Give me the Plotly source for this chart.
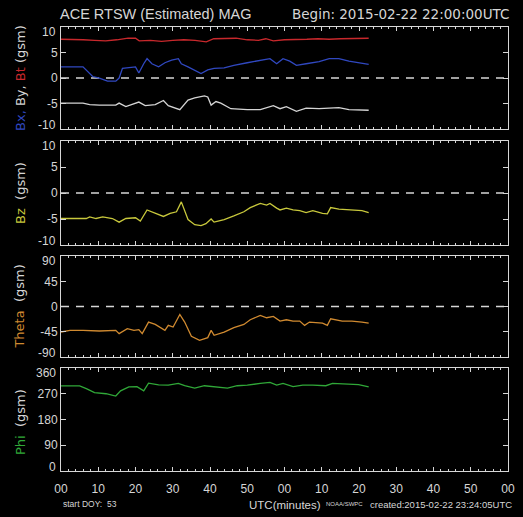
import plotly.graph_objects as go

# ACE RTSW magnetometer, 1-min data starting 2015-02-22 22:00 UTC (minutes since start)
bt_t = [0, 3, 6, 9, 12, 15, 18, 20, 21, 24, 27, 30, 33, 36, 39, 41, 44, 47, 50, 53, 55, 57, 60, 63, 66, 69, 72, 75, 78, 81, 82.6]
bt_v = [7.6, 7.6, 7.5, 7.4, 7.3, 7.5, 7.8, 7.8, 7.3, 7.4, 7.2, 7.4, 7.5, 7.4, 7.1, 7.7, 7.8, 7.8, 7.5, 7.4, 7.7, 7.3, 7.5, 7.5, 7.6, 7.7, 7.6, 7.7, 7.7, 7.8, 7.8]

bx_t = [0, 5.9, 8.5, 10.3, 12.5, 14.7, 15.6, 16.5, 20.0, 20.9, 22.2, 23.1, 24.4, 26.2, 27.9, 29.7, 31.5, 32.3, 34.1, 35.9, 37.6, 39.4, 41.1, 43.8, 46.4, 50.0, 53.5, 56.1, 57.9, 59.6, 61.4, 63.2, 65.8, 69.3, 72.0, 74.6, 77.3, 79.9, 82.6]
bx_v = [2.2, 2.2, 0.3, 0.0, -0.6, -0.6, 0.0, 1.9, 2.2, 1.0, 2.8, 3.8, 2.8, 2.2, 3.0, 3.5, 3.8, 2.8, 2.2, 1.6, 0.9, 1.6, 1.9, 2.0, 2.5, 3.0, 3.5, 3.8, 2.8, 3.8, 3.3, 2.5, 2.8, 3.2, 3.8, 3.8, 3.3, 3.0, 2.7]

by_t = [0, 5.9, 7.7, 10.3, 14.7, 15.6, 17.4, 19.1, 20.9, 22.6, 25.3, 27.5, 28.8, 31.9, 34.1, 35.9, 38.5, 39.4, 40.3, 41.6, 42.9, 45.6, 50.0, 53.5, 57.0, 58.8, 60.5, 63.2, 65.8, 69.3, 72.0, 74.6, 77.3, 79.9, 82.6]
by_v = [-4.9, -4.9, -5.2, -5.3, -5.3, -4.9, -5.6, -5.2, -4.7, -5.4, -5.2, -4.4, -5.4, -6.2, -4.3, -3.9, -3.5, -3.7, -5.3, -4.6, -4.9, -6.0, -6.2, -6.2, -5.4, -6.0, -5.6, -6.5, -5.9, -6.0, -5.9, -5.8, -6.2, -6.2, -6.3]

bz_t = [0, 6.8, 7.7, 9.4, 11.2, 13.8, 15.6, 17.4, 20.0, 21.3, 23.1, 25.3, 27.5, 29.3, 31.0, 32.3, 34.1, 35.9, 37.6, 38.9, 40.3, 41.1, 43.8, 46.4, 49.1, 50.8, 53.5, 55.2, 56.1, 57.9, 58.8, 60.5, 62.3, 64.1, 65.8, 67.6, 70.2, 71.5, 72.4, 74.6, 78.1, 80.8, 82.6]
bz_v = [-4.9, -4.9, -4.6, -4.9, -4.6, -4.9, -5.6, -4.9, -4.75, -5.4, -3.25, -3.9, -4.5, -3.9, -3.6, -1.7, -5.1, -6.1, -6.25, -5.9, -5.0, -5.6, -5.1, -4.4, -3.6, -2.8, -2.0, -2.3, -2.0, -2.9, -3.25, -2.9, -3.25, -3.4, -3.75, -3.4, -3.9, -4.0, -2.8, -3.1, -3.25, -3.4, -3.75]

th_t = [0, 2.4, 5.9, 10.3, 14.7, 15.6, 17.8, 19.6, 20.9, 21.8, 23.5, 25.3, 27.9, 28.8, 30.1, 31.9, 33.2, 35.0, 37.2, 39.4, 40.3, 41.1, 43.8, 46.4, 49.1, 50.8, 53.5, 55.2, 57.0, 58.8, 60.5, 62.3, 64.1, 65.4, 66.7, 70.2, 71.5, 72.4, 75.5, 78.1, 80.8, 82.6]
th_v = [-45.6, -42.6, -42.6, -43.8, -42.6, -48.5, -39.6, -42.6, -41.4, -48.5, -27.8, -32.0, -42.6, -33.7, -36.7, -14.2, -27.8, -53.2, -60.4, -55.6, -42.6, -51.5, -45.6, -37.9, -32.0, -23.7, -16.0, -20.1, -17.8, -26.0, -23.7, -26.0, -26.0, -33.7, -27.8, -29.6, -33.7, -21.9, -26.0, -26.0, -27.8, -29.6]

ph_t = [0, 5.0, 6.8, 9.0, 12.1, 14.7, 16.0, 18.2, 20.4, 22.2, 23.5, 26.2, 28.8, 31.5, 33.2, 35.9, 38.5, 41.1, 44.7, 47.3, 50.0, 53.5, 56.1, 57.9, 59.6, 62.3, 64.9, 67.6, 71.1, 72.9, 76.4, 79.9, 82.6]
ph_v = [297.6, 297.6, 288, 274, 270, 262, 280, 294, 295, 280, 307, 301, 300, 306, 298, 290, 298, 295, 290, 298, 300, 306, 310, 300, 306, 295, 300, 300, 298, 306, 303, 302, 294]

x_ticks = list(range(0, 121, 10))
x_labels = ["00", "10", "20", "30", "40", "50", "00", "10", "20", "30", "40", "50", "00"]

y_ticks = [[-10, -5, 0, 5, 10], [-10, -5, 0, 5, 10], [-90, -45, 0, 45, 90], [0, 90, 180, 270, 360]]

FG = "#d6d6d6"
FONT = "Liberation Sans, Arial, sans-serif"
WIDE = "DejaVu Sans, Liberation Sans, sans-serif"
RED, BLUE, WHITE = "#c8282c", "#3048c0", "#d4d4d4"
YELLOW, ORANGE, GREEN = "#c8c83c", "#d08a30", "#30a838"

fig = go.Figure()

def line(x, y, color, ax):
    fig.add_trace(go.Scatter(x=x, y=y, mode="lines", line=dict(color=color, width=1.3),
                             xaxis="x" + ax, yaxis="y" + ax, hoverinfo="skip", showlegend=False))

# zero reference lines (panels 1-3)
for ax in ["", "2", "3"]:
    fig.add_trace(go.Scatter(x=[0, 120], y=[0, 0], mode="lines",
                             line=dict(color=FG, width=1.4, dash="8px,7px"),
                             xaxis="x" + ax, yaxis="y" + ax, hoverinfo="skip", showlegend=False))

line(bt_t, bt_v, RED, "")
line(bx_t, bx_v, BLUE, "")
line(by_t, by_v, WHITE, "")
line(bz_t, bz_v, YELLOW, "2")
line(th_t, th_v, ORANGE, "3")
line(ph_t, ph_v, GREEN, "4")

domains = [[0.770, 1.0], [0.509, 0.743], [0.257, 0.484], [0.0, 0.232]]

layout = dict(
    width=523, height=517,
    paper_bgcolor="black", plot_bgcolor="black",
    margin=dict(l=61, r=8, t=27, b=46),
    font=dict(family=FONT, color=FG, size=12),
    showlegend=False,
)

for i in range(4):
    sfx = "" if i == 0 else str(i + 1)
    layout["xaxis" + sfx] = dict(
        domain=[0, 1], range=[0, 120], anchor="y" + sfx,
        showgrid=False, zeroline=False,
        showline=True, linecolor=FG, linewidth=1, mirror="allticks",
        ticks="inside", ticklen=4, tickcolor=FG, tickwidth=1,
        tickvals=x_ticks, ticktext=x_labels,
        showticklabels=(i == 3), ticklabelstandoff=7,
        tickfont=dict(size=12, color=FG),
        minor=dict(dtick=2, ticks="inside", ticklen=2, tickcolor=FG, tickwidth=1),
    )
    ticks = y_ticks[i]
    # end labels are drawn separately, nudged inside the panel
    layout["yaxis" + sfx] = dict(
        domain=domains[i], range=[ticks[0], ticks[-1]], anchor="x" + sfx,
        showgrid=False, zeroline=False,
        showline=True, linecolor=FG, linewidth=1, mirror="allticks",
        ticks="inside", ticklen=5, tickcolor=FG, tickwidth=1,
        tickvals=ticks, ticktext=[""] + [str(v) for v in ticks[1:-1]] + [""],
        tickfont=dict(size=12, color=FG),
    )

fig.update_layout(**layout)

for i in range(4):
    sfx = "" if i == 0 else str(i + 1)
    ticks = y_ticks[i]
    for v, shift in ((ticks[0], 4), (ticks[-1], -5)):
        fig.add_annotation(text=str(v), xref="x" + sfx + " domain", yref="y" + sfx,
                           x=0, y=v, xanchor="right", yanchor="middle", xshift=-3, yshift=shift,
                           showarrow=False, font=dict(size=12, color=FG, family=FONT))

def span(txt, color):
    return f'<span style="color:{color}">{txt}</span>'

ytitles = [
    (0.885, span("Bx,", BLUE) + " " + span("By,", WHITE) + " " + span("Bt", RED) + " " + span("(gsm)", FG)),
    (0.626, span("Bz", YELLOW) + "  " + span("(gsm)", FG)),
    (0.370, span("Theta", ORANGE) + "  " + span("(gsm)", FG)),
    (0.110, span("Phi", GREEN) + "  " + span("(gsm)", FG)),
]
for yc, txt in ytitles:
    fig.add_annotation(text=txt, xref="paper", yref="paper", x=-0.092, y=yc,
                       xanchor="center", yanchor="middle", textangle=-90,
                       showarrow=False, font=dict(size=13, family=WIDE))

fig.add_annotation(text="ACE RTSW (Estimated) MAG", xref="paper", yref="paper",
                   x=-0.007, y=1.0 + 13 / 444, xanchor="left", yanchor="middle",
                   showarrow=False, font=dict(size=14.5, color=FG, family=FONT))
fig.add_annotation(text="Begin: 2015-02-22 22:00:00UTC", xref="paper", yref="paper",
                   x=1.007, y=1.0 + 13 / 444, xanchor="right", yanchor="middle",
                   showarrow=False, font=dict(size=13.5, color=FG, family=WIDE))

fig.add_annotation(text="start DOY:  53", xref="paper", yref="paper",
                   x=0.0, y=-33 / 444, xanchor="left", yanchor="middle",
                   showarrow=False, font=dict(size=8.5, color=FG, family=FONT))
fig.add_annotation(text="UTC(minutes)", xref="paper", yref="paper",
                   x=(288 - 61) / 454, y=-34 / 444, xanchor="center", yanchor="middle",
                   showarrow=False, font=dict(size=11.5, color=FG, family=FONT))
fig.add_annotation(text="NOAA/SWPC", xref="paper", yref="paper",
                   x=(349 - 61) / 454, y=-33 / 444, xanchor="center", yanchor="middle",
                   showarrow=False, font=dict(size=6, color=FG, family=FONT))
fig.add_annotation(text="created:2015-02-22 23:24:05UTC", xref="paper", yref="paper",
                   x=(521 - 61) / 454, y=-33 / 444, xanchor="right", yanchor="middle",
                   showarrow=False, font=dict(size=9.5, color=FG, family=FONT))

fig.write_html("out.html")
